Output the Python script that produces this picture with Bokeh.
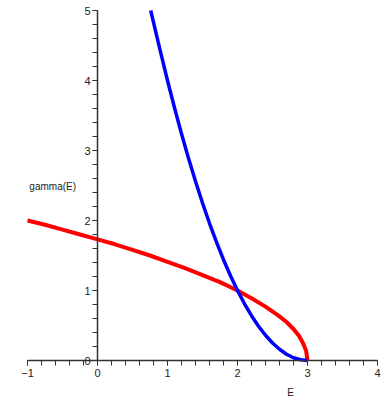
from bokeh.plotting import figure
from bokeh.models import Range1d, LinearAxis, FixedTicker, Label
from bokeh.embed import file_html
from bokeh.resources import INLINE

# Data
red_E = [-1.0, -0.75, -0.5, -0.25, 0.0, 0.25, 0.5, 0.75, 1.0, 1.25, 1.5, 1.75, 2.0,
         2.2, 2.4, 2.6, 2.7, 2.8, 2.88, 2.94, 2.98, 3.0]
red_gamma = [2.0, 1.94, 1.87, 1.80, 1.73, 1.66, 1.58, 1.50, 1.41, 1.32, 1.22, 1.12, 1.0,
             0.89, 0.77, 0.63, 0.55, 0.45, 0.35, 0.24, 0.14, 0.0]
blue_E = [0.76, 0.85, 0.9, 1.0, 1.1, 1.2, 1.3, 1.4, 1.5, 1.6, 1.7, 1.8, 1.9, 2.0,
          2.1, 2.2, 2.3, 2.4, 2.5, 2.6, 2.7, 2.8, 2.9, 3.0]
blue_gamma = [5.0, 4.62, 4.41, 4.0, 3.61, 3.24, 2.89, 2.56, 2.25, 1.96, 1.69, 1.44, 1.21, 1.0,
              0.81, 0.64, 0.49, 0.36, 0.25, 0.16, 0.09, 0.04, 0.01, 0.0]
x_ticks = [-1, 0, 1, 2, 3, 4]
y_ticks = [0, 1, 2, 3, 4, 5]
x_label = "E"
y_label = "gamma(E)"

W, H = 384, 398
ppu = 70.0
x0 = -1 - 27 / ppu
y1 = 5 + 10 / ppu
p = figure(width=W, height=H, output_backend="svg", toolbar_location=None,
           x_range=Range1d(x0, x0 + W / ppu), y_range=Range1d(y1 - H / ppu, y1),
           x_axis_location=None, y_axis_location=None,
           min_border_left=0, min_border_right=0, min_border_top=0, min_border_bottom=0)
p.grid.visible = False
p.outline_line_color = None

p.line(red_E, red_gamma, line_color="#ff0000", line_width=4, line_join="round")
p.line(blue_E, blue_gamma, line_color="#0000ff", line_width=3.5, line_join="round")

font = "Liberation Sans"
xa = LinearAxis(fixed_location=0, bounds=(x_ticks[0], x_ticks[-1]),
                ticker=FixedTicker(ticks=x_ticks, minor_ticks=[i / 5 for i in range(-5, 21)]))
ya = LinearAxis(fixed_location=0, bounds=(y_ticks[0], y_ticks[-1]),
                ticker=FixedTicker(ticks=y_ticks, minor_ticks=[i / 5 for i in range(0, 26)]))
for ax in (xa, ya):
    ax.axis_line_color = "#333333"
    ax.axis_line_width = 1.5
    ax.major_tick_line_color = "#333333"
    ax.minor_tick_line_color = "#333333"
    ax.major_tick_out = 5
    ax.major_tick_in = 0
    ax.minor_tick_out = 5
    ax.minor_tick_in = 0
    ax.major_label_text_font = font
    ax.major_label_text_font_size = "11px"
    ax.major_label_text_color = "#222222"
xa.major_label_standoff = 3
ya.major_label_standoff = 2
p.add_layout(xa, "below")
p.add_layout(ya, "left")

p.add_layout(Label(x=2.76, y=-0.46, text=x_label, text_font=font, text_font_size="10px",
                   text_color="#222222", text_align="center", text_baseline="middle"))
p.add_layout(Label(x=-0.64, y=2.48, text=y_label, text_font=font, text_font_size="10px",
                   text_color="#222222", text_align="center", text_baseline="middle"))

open("out.html", "w").write(file_html(p, INLINE))
